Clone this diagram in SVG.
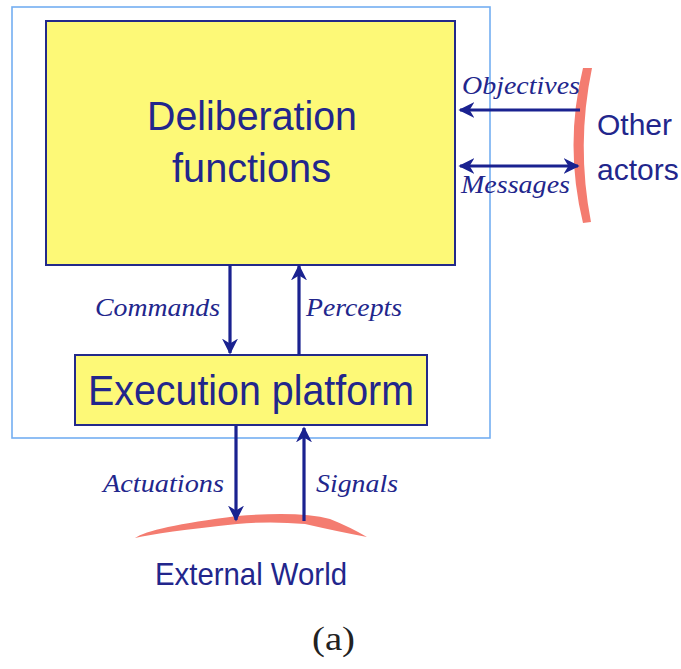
<svg xmlns="http://www.w3.org/2000/svg" width="681" height="669" viewBox="0 0 681 669">
  <style>
    .box { fill: #fdf977; stroke: #232a8a; stroke-width: 2; }
    .frame { fill: none; stroke: #74aef2; stroke-width: 1.6; }
    .sans { font-family: "Liberation Sans", Arial, sans-serif; fill: #22268c; }
    .lbl { font-family: "Liberation Serif", "Times New Roman", serif; font-style: italic; font-size: 25px; fill: #22268c; }
    .conn { stroke: #1a2290; stroke-width: 3.2; fill: none; }
    .world { fill: #f47c70; }
    .caption { font-family: "Liberation Serif", "Times New Roman", serif; font-size: 33px; fill: #222222; }
  </style>
  <defs>
    <marker id="ah" viewBox="0 0 10 10" refX="9" refY="5" markerWidth="5" markerHeight="5" orient="auto-start-reverse" markerUnits="strokeWidth">
      <path d="M0,0 L10,5 L0,10 L3,5 Z" fill="#1a2290"/>
    </marker>
  </defs>
  <rect width="681" height="669" fill="#ffffff"/>

  <!-- agent boundary -->
  <rect class="frame" x="12" y="7" width="478" height="431"/>

  <g id="deliberation">
    <rect class="box" x="46" y="21" width="409" height="244"/>
    <text class="sans" x="147" y="130" font-size="40" textLength="210" lengthAdjust="spacingAndGlyphs">Deliberation</text>
    <text class="sans" x="172" y="182" font-size="40" textLength="159" lengthAdjust="spacingAndGlyphs">functions</text>
  </g>

  <g id="execution">
    <rect class="box" x="75" y="355" width="352" height="70"/>
    <text class="sans" x="88" y="405" font-size="42" textLength="326" lengthAdjust="spacingAndGlyphs">Execution platform</text>
  </g>

  <g id="other-actors">
    <path class="world" d="M583,68 Q564,145 583,223 L591,222 Q576,145 592,68 Z"/>
    <text class="sans" x="597" y="135" font-size="30">Other</text>
    <text class="sans" x="597" y="180" font-size="30">actors</text>
  </g>

  <g id="external-world">
    <path class="world" d="M135,538 Q150,527 237,516 Q300,511 330,519 Q350,527 367,537 Q340,532 305,524 Q270,521 237,524 Q160,532 135,538 Z"/>
    <text class="sans" x="155" y="585" font-size="32" textLength="192" lengthAdjust="spacingAndGlyphs">External World</text>
  </g>

  <g id="connectors">
    <line class="conn" x1="580" y1="110" x2="460" y2="110" marker-end="url(#ah)"/>
    <line class="conn" x1="460" y1="166" x2="578" y2="166" marker-start="url(#ah)" marker-end="url(#ah)"/>
    <line class="conn" x1="230" y1="265" x2="230" y2="353" marker-end="url(#ah)"/>
    <line class="conn" x1="299" y1="355" x2="299" y2="266" marker-end="url(#ah)"/>
    <line class="conn" x1="236" y1="426" x2="236" y2="520" marker-end="url(#ah)"/>
    <line class="conn" x1="304" y1="521" x2="304" y2="428" marker-end="url(#ah)"/>
  </g>

  <g id="labels">
    <text class="lbl" x="462" y="94" textLength="118" lengthAdjust="spacingAndGlyphs">Objectives</text>
    <text class="lbl" x="461" y="193" textLength="109" lengthAdjust="spacingAndGlyphs">Messages</text>
    <text class="lbl" x="95" y="316" textLength="125" lengthAdjust="spacingAndGlyphs">Commands</text>
    <text class="lbl" x="306" y="316" textLength="96" lengthAdjust="spacingAndGlyphs">Percepts</text>
    <text class="lbl" x="103" y="492" textLength="121" lengthAdjust="spacingAndGlyphs">Actuations</text>
    <text class="lbl" x="316" y="492" textLength="82" lengthAdjust="spacingAndGlyphs">Signals</text>
  </g>

  <text class="caption" x="312" y="650" textLength="43" lengthAdjust="spacingAndGlyphs">(a)</text>
</svg>
